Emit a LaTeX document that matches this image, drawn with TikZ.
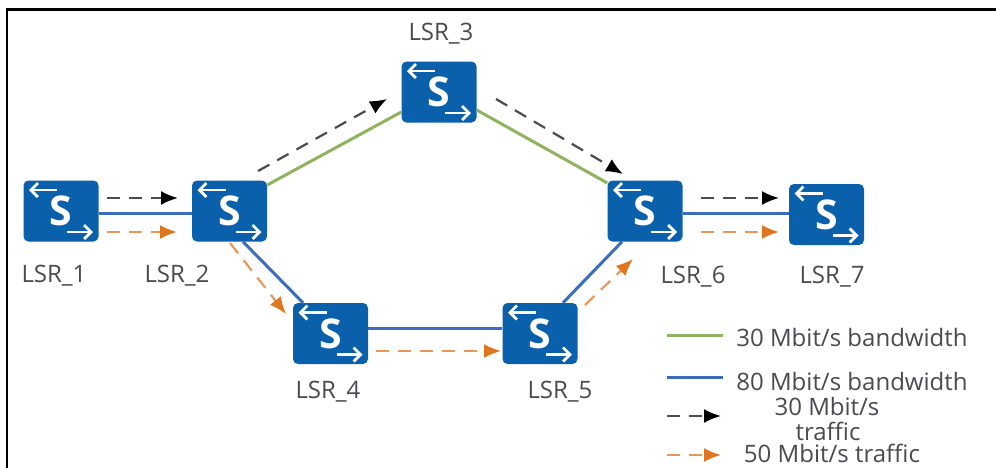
\documentclass[tikz,border=0pt]{standalone}
\usepackage{fontspec}
\setmainfont{Open Sans}
\usetikzlibrary{arrows.meta}
\definecolor{swblue}{HTML}{0A60AA}
\definecolor{bwgreen}{HTML}{8FB35F}
\definecolor{bwblue}{HTML}{3A6DBB}
\definecolor{trorange}{HTML}{E0751F}
\definecolor{txtgray}{HTML}{4A4A50}
\tikzset{
  switchbox/.style={fill=swblue,rounded corners=5pt,minimum width=75pt,minimum height=61pt,inner sep=0pt,
    text=white,font=\fontsize{41}{41}\selectfont\bfseries,
    path picture={
      \draw[white,line width=2.8pt,-{Straight Barb[length=7pt,width=14pt,line width=2.8pt]}]
        ([shift={(-4pt,21pt)}]path picture bounding box.center) -- ([shift={(-32pt,21pt)}]path picture bounding box.center);
      \draw[white,line width=2.8pt,-{Straight Barb[length=7pt,width=14pt,line width=2.8pt]}]
        ([shift={(6pt,-21pt)}]path picture bounding box.center) -- ([shift={(32pt,-21pt)}]path picture bounding box.center);
    }},
  lbl/.style={text=txtgray,font=\fontsize{24}{28}\selectfont,inner sep=0pt},
  leg/.style={text=txtgray,font=\fontsize{24}{28}\selectfont,inner sep=0pt},
  bw30/.style={bwgreen,line width=3pt},
  bw80/.style={bwblue,line width=3pt},
  traffic30/.style={black!70,line width=2.2pt,dash pattern=on 13pt off 9pt,-{Latex[black,length=17pt,width=14pt]}},
  traffic50/.style={trorange!75,line width=2.2pt,dash pattern=on 13pt off 9pt,-{Latex[trorange,length=17pt,width=14pt]}},
  frameline/.style={black,line width=2.2pt}
}
\begin{document}
\begin{tikzpicture}[x=1pt,y=-1pt]
\useasboundingbox (0,0) rectangle (996,467);
\fill[white] (0,0) rectangle (996,467);
\coordinate (fa) at (7,470);
\coordinate (fb) at (7,9.5);
\coordinate (fc) at (999,9.5);
\draw[frameline] (fa) -- (fb) -- (fc);
% switches
\node[switchbox] (s1) at (61,211) {S};
\node[switchbox] (s2) at (229.5,211) {S};
\node[switchbox] (s3) at (439,92) {S};
\node[switchbox] (s4) at (330.5,333.5) {S};
\node[switchbox] (s5) at (540,333.5) {S};
\node[switchbox] (s6) at (645,211) {S};
\node[switchbox] (s7) at (826.5,214.5) {S};
% labels
\node[lbl] (l1) at (54,276) {LSR\_1};
\node[lbl] (l2) at (177,276) {LSR\_2};
\node[lbl] (l3) at (441,34) {LSR\_3};
\node[lbl] (l4) at (328,392) {LSR\_4};
\node[lbl] (l5) at (560,392) {LSR\_5};
\node[lbl] (l6) at (693,277) {LSR\_6};
\node[lbl] (l7) at (832,277) {LSR\_7};
% links
\draw[bw80] ([yshift=-2pt]s1.east) -- ([yshift=-2pt]s2.west);
\draw[bw30] ([yshift=26pt]s2.east) -- ([yshift=-20pt]s3.west);
\draw[bw30] ([yshift=-18pt]s3.east) -- ([yshift=28pt]s6.west);
\draw[bw80] ([xshift=13.5pt]s2.south) -- ([xshift=-27.5pt]s4.north);
\draw[bw80] ([yshift=5.5pt]s4.east) -- ([yshift=5.5pt]s5.west);
\draw[bw80] ([xshift=23pt]s5.north) -- ([xshift=-23pt]s6.south);
\draw[bw80] ([yshift=-2pt]s6.east) -- ([yshift=1.5pt]s7.west);
% traffic
\coordinate (a1) at (107,198); \coordinate (a2) at (178,198);
\coordinate (b1) at (107,232); \coordinate (b2) at (177,232);
\coordinate (c1) at (258,171); \coordinate (c2) at (387,99);
\coordinate (d1) at (496,99);  \coordinate (d2) at (623,174);
\coordinate (e1) at (701,198); \coordinate (e2) at (779,198);
\coordinate (f1) at (701,232); \coordinate (f2) at (779,232);
\coordinate (g1) at (230,243); \coordinate (g2) at (286,314);
\coordinate (h1) at (376,351); \coordinate (h2) at (501,351);
\coordinate (i1) at (585,305); \coordinate (i2) at (633,259);
\draw[traffic30] (a1) -- (a2);
\draw[traffic50] (b1) -- (b2);
\draw[traffic30] (c1) -- (c2);
\draw[traffic30] (d1) -- (d2);
\draw[traffic30] (e1) -- (e2);
\draw[traffic50] (f1) -- (f2);
\draw[traffic50] (g1) -- (g2);
\draw[traffic50] (h1) -- (h2);
\draw[traffic50] (i1) -- (i2);
% legend
\coordinate (k1) at (667,335); \coordinate (k2) at (723,335);
\coordinate (m1) at (667,377); \coordinate (m2) at (723,377);
\coordinate (n1) at (667,416); \coordinate (n2) at (721,416);
\coordinate (o1) at (667,455); \coordinate (o2) at (721,455);
\draw[bw30] (k1) -- (k2);
\draw[bw80] (m1) -- (m2);
\draw[traffic30] (n1) -- (n2);
\draw[traffic50] (o1) -- (o2);
\node[leg] (t1) at (852,337) {30 Mbit/s bandwidth};
\node[leg] (t2) at (852,381) {80 Mbit/s bandwidth};
\node[leg] (t3) at (827,406) {30 Mbit/s};
\node[leg] (t4) at (828,431) {traffic};
\node[leg] (t5) at (832,453) {50 Mbit/s traffic};
\end{tikzpicture}
\end{document}
